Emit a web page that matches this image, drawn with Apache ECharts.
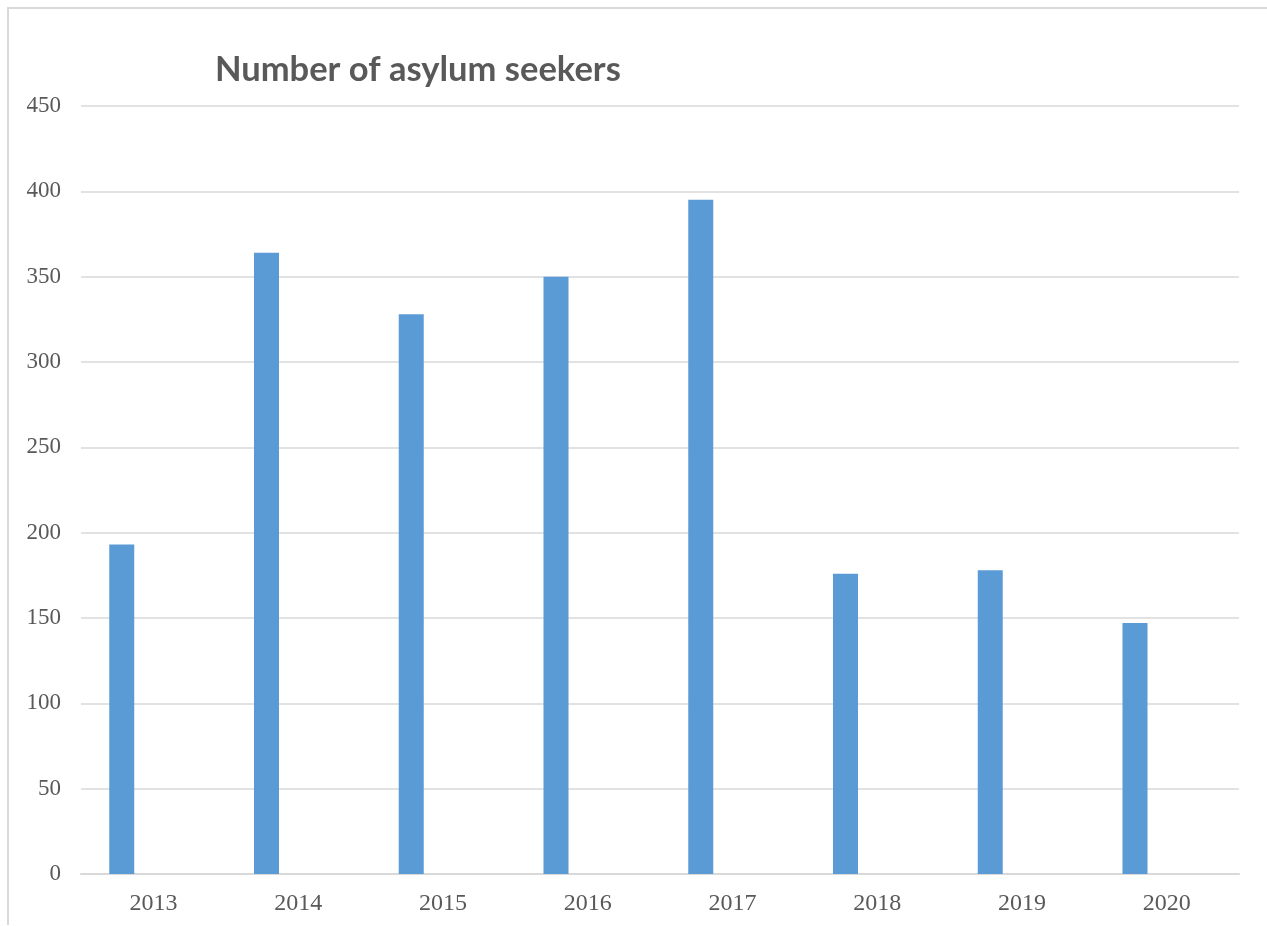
<!DOCTYPE html>
<html>
<head>
<meta charset="utf-8">
<script src="https://cdn.jsdelivr.net/npm/echarts@6/dist/echarts.min.js"></script>
<style>
html,body{margin:0;padding:0;background:#fff;}
#frame{position:absolute;left:7px;top:7px;width:1260px;height:916px;border-left:2px solid #d9d9d9;border-top:2px solid #d9d9d9;}
#chart{position:absolute;left:0;top:0;width:1267px;height:926px;}
</style>
</head>
<body>
<div id="frame"></div>
<div id="chart"></div>
<script>
const years = ['2013','2014','2015','2016','2017','2018','2019','2020'];
const asylumSeekers = [193, 364, 328, 350, 395, 176, 178, 147];
const emptySeries = [null, null, null, null, null, null, null, null];
const yTicks = {min: 0, max: 450, interval: 50};

const chart = echarts.init(document.getElementById('chart'), null, {renderer: 'canvas'});
chart.setOption({
  animation: false,
  backgroundColor: 'transparent',
  title: {
    text: 'Number of asylum seekers',
    left: 210, top: 47,
    textStyle: {fontFamily: 'Lato', fontWeight: 'bold', fontSize: 34.5, color: '#595959'}
  },
  grid: {left: 81, right: 28, top: 106, bottom: 52, containLabel: false},
  xAxis: {
    type: 'category',
    data: years,
    axisLine: {show: true, lineStyle: {color: '#d9d9d9', width: 2}},
    axisTick: {show: false},
    axisLabel: {fontFamily: 'Liberation Serif', fontSize: 24, color: '#595959', margin: 18}
  },
  yAxis: {
    type: 'value',
    min: yTicks.min, max: yTicks.max, interval: yTicks.interval,
    axisLine: {show: false},
    axisTick: {show: false},
    splitLine: {lineStyle: {color: '#d9d9d9', width: 1.5}},
    axisLabel: {fontFamily: 'Liberation Serif', fontSize: 23, color: '#595959', margin: 20}
  },
  series: [
    {type: 'bar', data: asylumSeekers, barWidth: 25, barGap: '153%',
     itemStyle: {color: '#5b9bd5'}},
    {type: 'bar', data: emptySeries, barWidth: 25, itemStyle: {color: '#ed7d31'}}
  ]
});
</script>
</body>
</html>
